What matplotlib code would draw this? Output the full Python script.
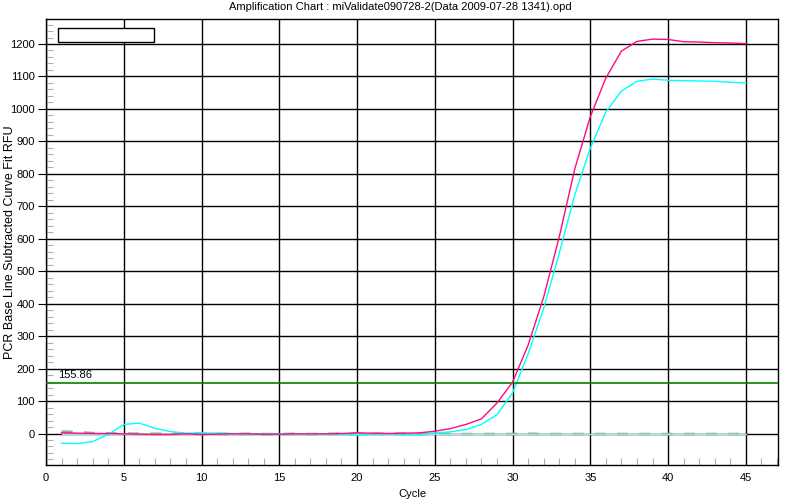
import numpy as np
import matplotlib.pyplot as plt
from matplotlib.patches import Rectangle
from matplotlib.ticker import MultipleLocator

cycles = np.arange(1, 46)

# well traces (RFU, one value per cycle)
pink = [2, 1, 0, 0, -1, -2, -3, -3, -1, -3, -2, -1, -1, -2, -2, -1, -1, -1, 0, 2,
        1, 0, 1, 2, 7, 15, 28, 45, 94, 158, 272, 420, 605, 815, 976,
        1095, 1178, 1208, 1215, 1214, 1207, 1206, 1204, 1203, 1201]
cyan = [-30, -31, -25, -3, 28, 32, 16, 6, 1, 2, 1, 0, -1, -2, -1, -1, -1, -1, -2, -5,
        -2, -1, -3, -4, 2, 5, 12, 28, 58, 125, 245, 385, 555, 735, 879,
        990, 1055, 1085, 1092, 1088, 1087, 1086, 1085, 1082, 1080]
grey_green = [6, 4, 1, 0, 0, -1, -1, -1, 0, -1, -1, -2, -1, -2, -2, -1, -2, -1, -1, -1,
              -1, -1, -1, -1, -1, -2, -2, -2, -2, -2, -1, -2, -2, -2, -2,
              -2, -2, -2, -2, -2, -2, -2, -2, -2, -2]
light_blue = [0] * 45

threshold = 155.86
title = "Amplification Chart : miValidate090728-2(Data 2009-07-28 1341).opd"

plt.rcParams["font.family"] = ["Liberation Sans", "DejaVu Sans"]

fig = plt.figure(figsize=(8, 5), dpi=100)
ax = fig.add_axes([0.0575, 0.07, 0.915, 0.892])

ax.plot(cycles, grey_green, color="#88b888", lw=2, ls=(0, (4, 4)), zorder=3)
ax.plot(cycles, light_blue, color="#a8dde8", lw=1, zorder=3)
ax.plot(cycles, cyan, color="#00ffff", lw=1, zorder=4)
ax.plot(cycles, pink, color="#ff0a80", lw=1, zorder=5)

ax.axhline(threshold, color="#008000", lw=1.2, zorder=4)
ax.text(0.8, threshold + 8, "%.2f" % threshold, fontsize=8, va="bottom", ha="left")

# empty legend box
ax.add_patch(Rectangle((0.017, 0.948), 0.131, 0.031, transform=ax.transAxes,
                       facecolor="white", edgecolor="black", lw=1, zorder=6))

ax.set_xlim(0, 47.07)
ax.set_ylim(-97, 1277)
ax.xaxis.set_major_locator(MultipleLocator(5))
ax.xaxis.set_minor_locator(MultipleLocator(1))
ax.yaxis.set_major_locator(MultipleLocator(100))
ax.yaxis.set_minor_locator(MultipleLocator(20))
ax.set_yticks(np.arange(0, 1201, 100))

ax.grid(True, which="major", color="black", lw=1)
ax.set_axisbelow(True)
ax.tick_params(axis="x", which="major", length=0, pad=6, labelsize=8)
ax.tick_params(axis="y", which="major", length=6, direction="out", labelsize=8, pad=2)
ax.tick_params(which="minor", direction="in", length=5, color="#b0b0b0", width=0.8)
ax.tick_params(axis="x", which="minor", pad=0)
for s in ax.spines.values():
    s.set_color("black")
    s.set_linewidth(1)

ax.set_xlabel("Cycle", fontsize=8, labelpad=4)
ax.set_ylabel("PCR Base Line Subtracted Curve Fit RFU", fontsize=9)
ax.yaxis.set_label_coords(-0.041, 0.5)
fig.text(0.5, 0.985, title, ha="center", va="center", fontsize=8)

fig.savefig("out.png", dpi=100)
